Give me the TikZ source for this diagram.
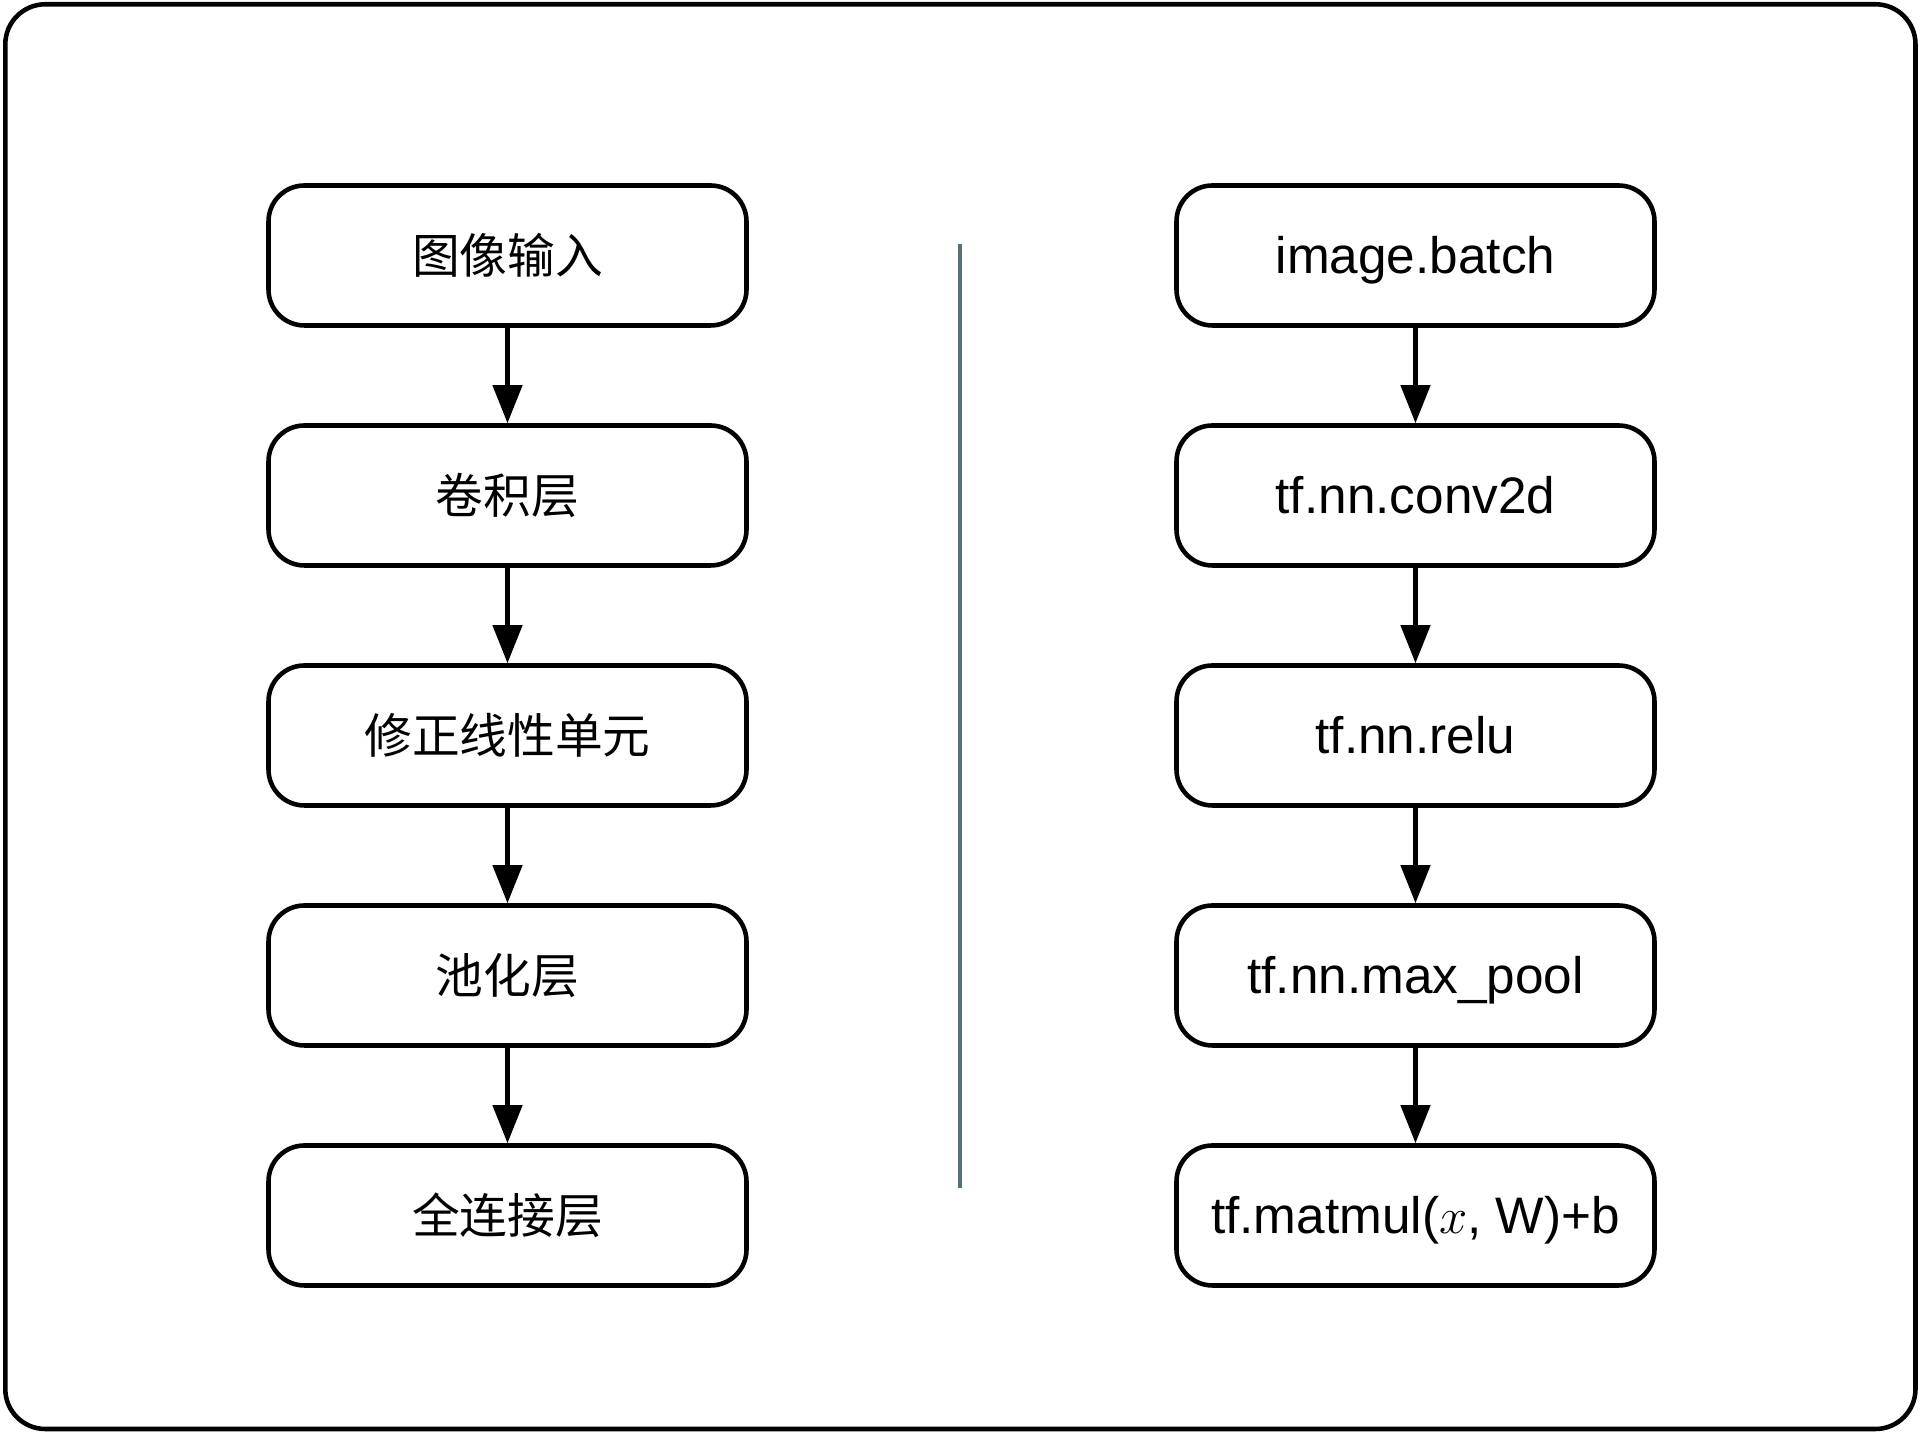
\documentclass[tikz,border=0pt]{standalone}
\usepackage{fontspec}
\setmainfont{Liberation Sans}
\newfontfamily\cjk{Noto Sans CJK SC}[Scale=0.93]
\usetikzlibrary{arrows.meta}

\definecolor{divgray}{HTML}{56707A}

\begin{document}
\begin{tikzpicture}[
  font=\fontsize{14.6pt}{17pt}\selectfont,
  stage/.style={rectangle, rounded corners=3.6mm, draw=black, line width=1.3pt,
                minimum width=4.78cm, minimum height=1.40cm, inner sep=0pt,
                text height=1.02em, text depth=0pt},
  ar/.style={-{Triangle[length=3.8mm, width=2.9mm]}, line width=1.3pt}
]
\useasboundingbox (0,0) rectangle (19.24,14.32);
\draw[line width=1.3pt, rounded corners=4mm] (0.053,0.03) rectangle (19.155,14.277);

% left column: network layers
\node[stage] (img)  at (5.075,11.765) {\cjk 图像输入};
\node[stage] (conv) at (5.075, 9.365) {\cjk 卷积层};
\node[stage] (relu) at (5.075, 6.965) {\cjk 修正线性单元};
\node[stage] (pool) at (5.075, 4.565) {\cjk 池化层};
\node[stage] (fc)   at (5.075, 2.165) {\cjk 全连接层};

% right column: tensorflow ops
\node[stage] (batch)   at (14.155,11.765) {image.batch};
\node[stage] (conv2d)  at (14.155, 9.365) {tf.nn.conv2d};
\node[stage] (reluop)  at (14.155, 6.965) {tf.nn.relu};
\node[stage] (maxpool) at (14.155, 4.565) {tf.nn.max\_pool};
\node[stage] (matmul)  at (14.155, 2.165) {tf.matmul($x$, W)+b};

\draw[ar] (img)  -- (conv);
\draw[ar] (conv) -- (relu);
\draw[ar] (relu) -- (pool);
\draw[ar] (pool) -- (fc);

\draw[ar] (batch)   -- (conv2d);
\draw[ar] (conv2d)  -- (reluop);
\draw[ar] (reluop)  -- (maxpool);
\draw[ar] (maxpool) -- (matmul);

% divider
\coordinate (divtop) at (9.60,11.88);
\coordinate (divbot) at (9.60,2.44);
\draw[divgray, line width=1.0pt] (divtop) -- (divbot);
\end{tikzpicture}
\end{document}
